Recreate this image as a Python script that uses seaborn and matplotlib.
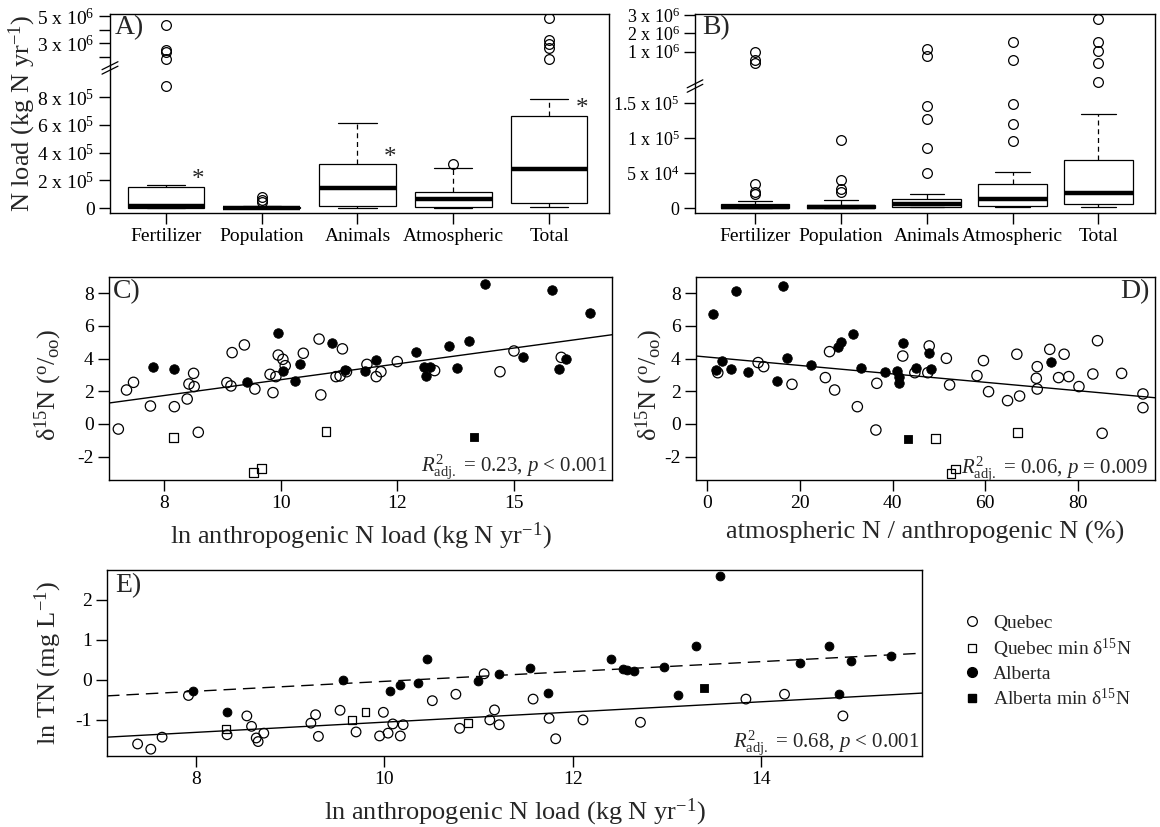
import numpy as np
import pandas as pd
import matplotlib
matplotlib.use("Agg")
import matplotlib.pyplot as plt
from matplotlib.lines import Line2D
import seaborn as sns

# ------------------------------------------------------------------ data
categories = ["Fertilizer", "Population", "Animals", "Atmospheric", "Total"]

# Panel A  (kg N / yr): whisker-low, Q1, median, Q3, whisker-high per category
a_whislo = [0, 0, 1e3, 0, 5e3]
a_q1 = [2e3, 0, 1.4e4, 5e3, 3.4e4]
a_med = [1.5e4, 3e3, 1.46e5, 6.3e4, 2.81e5]
a_q3 = [1.54e5, 1e4, 3.15e5, 1.18e5, 6.63e5]
a_whishi = [1.64e5, 1.5e4, 6.15e5, 2.86e5, 7.86e5]
a_out_fert = [8.79e5, 1.84e6, 2.37e6, 2.51e6, 4.34e6]
a_out_pop = [4.3e4, 5.8e4, 7.9e4]
a_out_anim = []
a_out_atm = [3.15e5]
a_out_tot = [1.82e6, 2.64e6, 2.93e6, 3.24e6, 4.83e6]
a_star_x = [0.34, 2.34, 4.34]
a_star_y = [2.52e5, 4.1e5, 7.64e5]

# Panel B
b_whislo = [0, 0, 1e3, 1e3, 1e3]
b_q1 = [0, 0, 1e3, 3.3e3, 5.7e3]
b_med = [2e3, 2e3, 5.7e3, 1.3e4, 2.19e4]
b_q3 = [5.5e3, 5e3, 1.24e4, 3.4e4, 6.86e4]
b_whishi = [1.05e4, 1.14e4, 2.0e4, 5.2e4, 1.34e5]
b_out_fert = [2.0e4, 2.3e4, 3.4e4, 7.2e5, 8.0e5, 1.0e6]
b_out_pop = [2.24e4, 2.67e4, 4.0e4, 9.7e4]
b_out_anim = [5.04e4, 8.6e4, 1.27e5, 1.46e5, 8.97e5, 1.13e6]
b_out_atm = [9.5e4, 1.2e5, 1.486e5, 8.0e5, 1.54e6]
b_out_tot = [2.79e5, 7.36e5, 1.04e6, 1.54e6, 2.77e6]

# Panel C: ln anthropogenic N load vs d15N
c_q_x = [7.22, 7.36, 7.48, 7.77, 8.18, 8.40, 8.43, 8.51, 8.52, 8.59, 9.08, 9.15, 9.17, 9.38, 9.56,
         9.82, 9.87, 9.92, 9.96, 10.04, 10.08, 10.39, 10.66, 10.69, 10.95, 11.02, 11.06, 11.13,
         11.48, 11.64, 11.72, 12.00, 12.64, 13.76, 14.00, 14.81]
c_q_y = [-0.31, 2.08, 2.55, 1.10, 1.06, 1.53, 2.45, 3.10, 2.29, -0.51, 2.53, 2.33, 4.37, 4.84, 2.14,
         3.04, 1.92, 2.90, 4.22, 3.96, 3.57, 4.33, 5.20, 1.78, 2.90, 2.94, 4.60, 3.20,
         3.65, 2.90, 3.20, 3.82, 3.27, 3.20, 4.47, 4.08]
c_qmin_x = [8.17, 9.53, 9.67, 10.78]
c_qmin_y = [-0.82, -2.96, -2.71, -0.47]
c_a_x = [7.82, 8.18, 9.42, 9.95, 10.04, 10.24, 10.33, 10.88, 11.11, 11.44, 11.64, 12.32, 12.45,
         12.50, 12.56, 12.89, 13.03, 13.23, 13.50, 14.16, 14.66, 14.77, 14.90, 15.31]
c_a_y = [3.47, 3.37, 2.55, 5.59, 3.27, 2.65, 3.67, 4.98, 3.31, 3.27, 3.92, 4.43, 3.51,
         2.94, 3.51, 4.78, 3.41, 5.08, 8.55, 4.08, 8.20, 3.35, 3.96, 6.78]
c_amin_x = [13.32]
c_amin_y = [-0.82]
c_fit = [-2.14, 0.485]          # intercept, slope
c_xticks = [8, 10, 12, 14]
c_xticklabels = ["8", "10", "12", "15"]

# Panel D: atmospheric / anthropogenic N (%) vs d15N
d_q_x = [2.3, 11.0, 12.2, 18.3, 25.5, 26.4, 27.5, 32.4, 36.6, 36.4, 42.2, 44.8, 47.6, 47.9, 51.6,
         52.3, 58.2, 59.6, 60.7, 64.8, 66.8, 67.4, 71.2, 71.0, 71.2, 73.9, 75.8, 77.0, 78.0, 80.2,
         83.2, 84.2, 85.2, 89.4, 94.0, 94.0]
d_q_y = [3.14, 3.76, 3.51, 2.43, 2.84, 4.43, 2.08, 1.06, 2.49, -0.37, 4.16, 3.14, 3.14, 4.78, 4.02,
         2.39, 2.96, 3.88, 1.98, 1.43, 4.27, 1.71, 3.51, 2.80, 2.14, 4.57, 2.84, 4.27, 2.90, 2.29,
         3.06, 5.10, -0.57, 3.10, 1.84, 1.00]
d_qmin_x = [49.2, 52.6, 53.6, 67.0]
d_qmin_y = [-0.88, -3.02, -2.76, -0.51]
d_a_x = [1.2, 6.2, 16.4, 2.0, 3.2, 5.1, 8.8, 15.0, 17.2, 22.3, 28.3, 28.8, 31.5, 33.2, 38.4,
         41.0, 41.4, 41.4, 42.2, 45.1, 47.9, 48.2, 74.2]
d_a_y = [6.71, 8.14, 8.45, 3.31, 3.88, 3.35, 3.16, 2.65, 4.02, 3.61, 4.73, 5.04, 5.51, 3.45, 3.16,
         3.27, 2.90, 2.49, 4.94, 3.41, 4.33, 3.35, 3.82]
d_amin_x = [43.4]
d_amin_y = [-0.92]
d_fit = [4.10, -0.0258]

# Panel E: ln anthropogenic N load vs ln TN
e_q_x = [7.38, 7.52, 7.64, 7.92, 8.33, 8.54, 8.59, 8.64, 8.66, 8.72, 9.22, 9.27, 9.30, 9.53, 9.70,
         9.99, 9.95, 10.04, 10.09, 10.17, 10.20, 10.51, 10.76, 10.80, 11.06, 11.12, 11.17, 11.22,
         11.58, 11.75, 11.82, 12.11, 12.72, 13.84, 14.25, 14.87]
e_q_y = [-1.60, -1.73, -1.43, -0.39, -1.37, -0.90, -1.16, -1.45, -1.54, -1.33, -1.08, -0.87, -1.41,
         -0.76, -1.30, -0.81, -1.40, -1.33, -1.10, -1.40, -1.12, -0.52, -0.36, -1.21, 0.15, -1.00,
         -0.75, -1.12, -0.48, -0.96, -1.47, -1.00, -1.06, -0.48, -0.36, -0.90]
e_qmin_x = [8.32, 9.66, 9.80, 10.89]
e_qmin_y = [-1.23, -1.00, -0.81, -1.08]
e_a_x = [7.97, 8.33, 9.56, 10.06, 10.17, 10.36, 10.45, 11.00, 11.22, 11.55, 11.74, 12.41, 12.53,
         12.58, 12.65, 12.97, 13.12, 13.31, 13.56, 14.41, 14.72, 14.83, 14.96, 15.38]
e_a_y = [-0.27, -0.81, 0.00, -0.29, -0.12, -0.07, 0.52, -0.02, 0.15, 0.29, -0.32, 0.52, 0.27,
         0.25, 0.21, 0.32, -0.37, 0.85, 2.58, 0.42, 0.85, -0.36, 0.47, 0.60]
e_amin_x = [13.40]
e_amin_y = [-0.21]
e_fit_quebec = [-2.326, 0.127]
e_fit_alberta = [-1.268, 0.123]

legend_labels = ["Quebec", "Quebec min δ$^{15}$N", "Alberta", "Alberta min δ$^{15}$N"]

# ------------------------------------------------------------------ style
sns.set_style("ticks")
plt.rcParams["font.family"] = ["Liberation Serif", "DejaVu Serif"]
plt.rcParams["mathtext.fontset"] = "custom"
plt.rcParams["mathtext.rm"] = "Liberation Serif"
plt.rcParams["mathtext.it"] = "Liberation Serif:italic"
plt.rcParams["mathtext.bf"] = "Liberation Serif:bold"
plt.rcParams["axes.linewidth"] = 1.0
plt.rcParams["axes.edgecolor"] = "black"
plt.rcParams["axes.unicode_minus"] = False

TICK = 14
LAB = 19
PANEL = 20
ANN = 15

fig = plt.figure(figsize=(11.6, 8.27), dpi=100)
W, H = 1160.0, 827.0


def add_axes(left, right, top, bottom):
    return fig.add_axes([left / W, 1 - bottom / H, (right - left) / W, (bottom - top) / H])


axA = add_axes(110, 609, 14, 213)
axB = add_axes(695, 1155, 14, 213)
axC = add_axes(109, 612, 277, 480)
axD = add_axes(696, 1155, 277, 480)
axE = add_axes(107, 922, 570, 756)


def style_ax(ax):
    ax.tick_params(axis="both", direction="out", length=8, width=1, labelsize=TICK, pad=3,
                   colors="black", top=False, right=False)
    for s in ax.spines.values():
        s.set_visible(True)
        s.set_color("black")
        s.set_linewidth(1.0)


def box_sample(lo, q1, med, q3, hi, out):
    k = len(out) + 1
    return [lo] + [q1] * k + [med] * k + [q3] * k + [hi] + list(out)


def box_frame(whislo, q1, med, q3, whishi, outs):
    rows = []
    for i, cat in enumerate(categories):
        for v in box_sample(whislo[i], q1[i], med[i], q3[i], whishi[i], outs[i]):
            rows.append((cat, v))
    return pd.DataFrame(rows, columns=["source", "load"])


def draw_box(ax, df):
    sns.boxplot(data=df, x="source", y="load", order=categories, ax=ax, color="white",
                linecolor="black", linewidth=0.9, width=0.8, whis=1.5, fliersize=7,
                medianprops=dict(linewidth=3.2, color="black"),
                whiskerprops=dict(linestyle=(0, (4, 3)), color="black"),
                capprops=dict(color="black"),
                flierprops=dict(marker="o", markerfacecolor="none", markeredgecolor="black",
                                markeredgewidth=0.9),
                capwidths=0.4)


def piecewise_scale(V, P):
    V = np.asarray(V, float)
    P = np.asarray(P, float)
    return (lambda v: np.interp(v, V, P), lambda p: np.interp(p, P, V))


def break_marks(ax, yfrac, xw, yh):
    for off in (-0.35, 0.35):
        ax.plot([-xw, xw], [yfrac - yh + off * yh * 1.6, yfrac + yh + off * yh * 1.6],
                transform=ax.transAxes, color="black", lw=0.9, clip_on=False)


# ------------------------------------------------------------------ Panel A
dfA = box_frame(a_whislo, a_q1, a_med, a_q3, a_whishi,
                [a_out_fert, a_out_pop, a_out_anim, a_out_atm, a_out_tot])
draw_box(axA, dfA)
axA.set_yscale("function", functions=piecewise_scale(
    [-1e6, 0, 1.0e6, 1.2e6, 2e6, 5e6, 1e7], [-138.75, 0, 138.75, 141, 151, 192, 260.3]))
axA.set_ylim(-3.6e4, 5.15e6)
axA.set_xlim(-0.583, 4.625)
axA.set_yticks([0, 2e5, 4e5, 6e5, 8e5, 2e6, 3e6, 4e6, 5e6])
axA.set_yticklabels(["0", "2 x 10$^{5}$", "4 x 10$^{5}$", "6 x 10$^{5}$", "8 x 10$^{5}$", "",
                     "3 x 10$^{6}$", "", "5 x 10$^{6}$"])
axA.set_xlabel("")
axA.set_ylabel("N load (kg N yr$^{-1}$)", fontsize=LAB)
style_ax(axA)
axA.yaxis.set_label_coords(-0.145, 0.5)
for sx, sy in zip(a_star_x, a_star_y):
    axA.annotate("*", xy=(sx, sy), xytext=(0, -9), textcoords="offset points",
                 ha="center", va="baseline", fontsize=18)
axA.text(0.01, 0.995, "A)", transform=axA.transAxes, ha="left", va="top", fontsize=PANEL)
break_marks(axA, 0.729, 0.016, 0.02)

# ------------------------------------------------------------------ Panel B
dfB = box_frame(b_whislo, b_q1, b_med, b_q3, b_whishi,
                [b_out_fert, b_out_pop, b_out_anim, b_out_atm, b_out_tot])
draw_box(axB, dfB)
axB.set_yscale("function", functions=piecewise_scale(
    [-1e6, 0, 1.7e5, 2.0e5, 1e6, 2e6, 3e6, 1e7], [-700, 0, 119, 123, 156.3, 174.7, 193, 320]))
axB.set_ylim(-7.1e3, 3.05e6)
axB.set_xlim(-0.70, 4.66)
axB.set_yticks([0, 5e4, 1e5, 1.5e5, 1e6, 2e6, 3e6])
axB.set_yticklabels(["0", "5 x 10$^{4}$", "1 x 10$^{5}$", "1.5 x 10$^{5}$", "1 x 10$^{6}$",
                     "2 x 10$^{6}$", "3 x 10$^{6}$"])
axB.set_xlabel("")
axB.set_ylabel("")
style_ax(axB)
axB.tick_params(axis="y", labelsize=13)
axB.text(0.015, 0.995, "B)", transform=axB.transAxes, ha="left", va="top", fontsize=PANEL)
break_marks(axB, 0.638, 0.017, 0.02)


# ------------------------------------------------------------------ scatter panels
def scatter_groups(ax, qx, qy, qmx, qmy, ax_, ay, amx, amy, sc=55, ss=40):
    sns.scatterplot(x=ax_, y=ay, ax=ax, marker="o", s=sc * 0.85, color="black",
                    edgecolor="black", linewidth=0.6, zorder=3)
    sns.scatterplot(x=qx, y=qy, ax=ax, marker="o", s=sc, facecolors="none",
                    edgecolor="black", linewidth=0.9, zorder=4)
    sns.scatterplot(x=qmx, y=qmy, ax=ax, marker="s", s=ss, facecolors="none",
                    edgecolor="black", linewidth=0.9, zorder=4)
    sns.scatterplot(x=amx, y=amy, ax=ax, marker="s", s=ss, color="black",
                    edgecolor="black", linewidth=0.6, zorder=4)


# Panel C
scatter_groups(axC, c_q_x, c_q_y, c_qmin_x, c_qmin_y, c_a_x, c_a_y, c_amin_x, c_amin_y)
axC.axline((0, c_fit[0]), slope=c_fit[1], color="black", lw=1.0)
axC.set_xlim(7.06, 15.68)
axC.set_ylim(-3.43, 9.0)
axC.set_xticks(c_xticks)
axC.set_xticklabels(c_xticklabels)
axC.set_yticks([-2, 0, 2, 4, 6, 8])
style_ax(axC)
axC.set_ylabel("δ$^{15}$N ($^{\\mathrm{o}}$/$_{\\mathrm{oo}}$)", fontsize=LAB)
axC.set_xlabel("ln anthropogenic N load (kg N yr$^{-1}$)", fontsize=LAB)
axC.yaxis.set_label_coords(-0.089, 0.47)
axC.xaxis.set_label_coords(0.5, -0.20)
axC.text(0.008, 0.99, "C)", transform=axC.transAxes, ha="left", va="top", fontsize=PANEL)
axC.text(0.992, 0.039, "$\\mathit{R}^{2}_{\\mathrm{adj.}}$ = 0.23, $\\mathit{p}$ < 0.001",
         transform=axC.transAxes, ha="right", va="baseline", fontsize=ANN)

# Panel D
scatter_groups(axD, d_q_x, d_q_y, d_qmin_x, d_qmin_y, d_a_x, d_a_y, d_amin_x, d_amin_y)
axD.axline((0, d_fit[0]), slope=d_fit[1], color="black", lw=1.0)
axD.set_xlim(-2.4, 96.6)
axD.set_ylim(-3.43, 9.0)
axD.set_xticks([0, 20, 40, 60, 80])
axD.set_yticks([-2, 0, 2, 4, 6, 8])
style_ax(axD)
axD.set_ylabel("δ$^{15}$N ($^{\\mathrm{o}}$/$_{\\mathrm{oo}}$)", fontsize=LAB)
axD.set_xlabel("atmospheric N / anthropogenic N (%)", fontsize=LAB)
axD.yaxis.set_label_coords(-0.068, 0.47)
axD.xaxis.set_label_coords(0.5, -0.20)
axD.text(0.989, 0.99, "D)", transform=axD.transAxes, ha="right", va="top", fontsize=PANEL)
axD.text(0.985, 0.03, "$\\mathit{R}^{2}_{\\mathrm{adj.}}$ = 0.06, $\\mathit{p}$ = 0.009",
         transform=axD.transAxes, ha="right", va="baseline", fontsize=ANN)

# Panel E
scatter_groups(axE, e_q_x, e_q_y, e_qmin_x, e_qmin_y, e_a_x, e_a_y, e_amin_x, e_amin_y,
               sc=48, ss=32)
axE.axline((0, e_fit_quebec[0]), slope=e_fit_quebec[1], color="black", lw=1.0)
axE.axline((0, e_fit_alberta[0]), slope=e_fit_alberta[1], color="black", lw=1.0,
           linestyle=(0, (9, 5)))
axE.set_xlim(7.055, 15.71)
axE.set_ylim(-1.9, 2.74)
axE.set_xticks([8, 10, 12, 14])
axE.set_yticks([-1, 0, 1, 2])
style_ax(axE)
axE.set_ylabel("ln TN (mg L$^{-1}$)", fontsize=LAB)
axE.set_xlabel("ln anthropogenic N load (kg N yr$^{-1}$)", fontsize=LAB)
axE.yaxis.set_label_coords(-0.053, 0.5)
axE.xaxis.set_label_coords(0.5, -0.22)
axE.text(0.01, 0.985, "E)", transform=axE.transAxes, ha="left", va="top", fontsize=PANEL)
axE.text(0.9975, 0.043, "$\\mathit{R}^{2}_{\\mathrm{adj.}}$ = 0.68, $\\mathit{p}$ < 0.001",
         transform=axE.transAxes, ha="right", va="baseline", fontsize=ANN)

handles = [
    Line2D([], [], ls="none", marker="o", ms=7, mfc="none", mec="black", mew=0.9),
    Line2D([], [], ls="none", marker="s", ms=6, mfc="none", mec="black", mew=0.9),
    Line2D([], [], ls="none", marker="o", ms=7, mfc="black", mec="black"),
    Line2D([], [], ls="none", marker="s", ms=6, mfc="black", mec="black"),
]
fig.legend(handles, legend_labels, loc="upper left", bbox_to_anchor=(962 / W, 1 - 614 / H),
           bbox_transform=fig.transFigure, frameon=False, fontsize=14, handlelength=1.0,
           handletextpad=0.6, labelspacing=0.25, borderpad=0, borderaxespad=0)

fig.savefig("out.png", dpi=100)
